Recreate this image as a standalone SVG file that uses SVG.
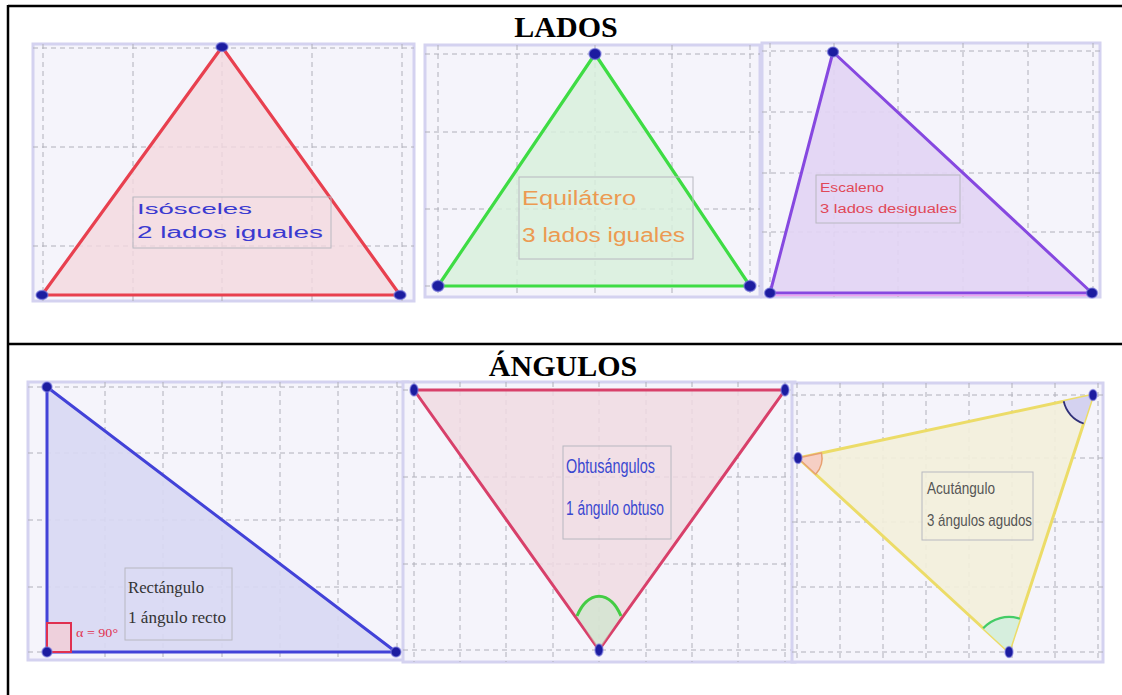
<svg xmlns="http://www.w3.org/2000/svg" width="1122" height="695" viewBox="0 0 1122 695">
<style>
.bg{fill:#f5f4fb;stroke:#d4d2f0;stroke-width:3}
.grid{stroke:#b0b0ba;stroke-width:1;stroke-dasharray:5 4;fill:none}
.frame{stroke:#000;stroke-width:2.5;fill:none}
.title{font-family:"Liberation Serif",serif;font-weight:bold;font-size:30px;fill:#000;text-anchor:middle}
.dot{fill:#1c1ca0;stroke:#7a7ae0;stroke-width:1.5;stroke-opacity:0.6}
.lbl{fill:none;stroke:#b8b8c0;stroke-width:1}
.sans{font-family:"Liberation Sans",Arial,sans-serif}
.serif{font-family:"Liberation Serif","Times New Roman",serif}
</style>
<rect width="1122" height="695" fill="#fff"/>
<g id="table">
<line class="frame" x1="8" y1="6" x2="1122" y2="6"/>
<line class="frame" x1="8" y1="344" x2="1122" y2="344"/>
<line class="frame" x1="8" y1="5" x2="8" y2="695"/>
<text class="title" x="566" y="37">LADOS</text>
<text class="title" x="563" y="376">ÁNGULOS</text>
</g>
<g id="isosceles">
<rect class="bg" x="33" y="44" width="381" height="257"/>
<path class="grid" d="M43 44V301M133 44V301M222 44V301M312 44V301M402 44V301M33 48H414M33 147H414M33 246H414"/>
<polygon points="222,47 42,295 400,295" fill="#f4d8de" fill-opacity="0.8" stroke="#e8404f" stroke-width="3.2" stroke-linejoin="round"/>
<rect class="lbl" x="133" y="197" width="198" height="51"/>
<text class="sans" x="137" y="214" font-size="15" fill="#3a3ad0" textLength="115" lengthAdjust="spacingAndGlyphs">Isósceles</text>
<text class="sans" x="137" y="238" font-size="16" fill="#3a3ad0" textLength="186" lengthAdjust="spacingAndGlyphs">2 lados iguales</text>
<ellipse class="dot" cx="222" cy="47" rx="6" ry="4.5"/>
<ellipse class="dot" cx="42" cy="295" rx="6" ry="4.5"/>
<ellipse class="dot" cx="400" cy="295" rx="6" ry="4.5"/>
</g>
<g id="equilatero">
<rect class="bg" x="425" y="45" width="335" height="252"/>
<path class="grid" d="M438 45V297M517 45V297M595 45V297M672 45V297M750 45V297M425 54H760M425 132H760M425 209H760M425 286H760"/>
<polygon points="595,54 438,286 750,286" fill="#d8f0dc" fill-opacity="0.85" stroke="#3edc44" stroke-width="3.2" stroke-linejoin="round"/>
<rect class="lbl" x="519" y="177" width="174" height="82"/>
<text class="sans" x="522" y="205" font-size="20" fill="#ec9a52" textLength="114" lengthAdjust="spacingAndGlyphs">Equilátero</text>
<text class="sans" x="522" y="242" font-size="20" fill="#ec9a52" textLength="163" lengthAdjust="spacingAndGlyphs">3 lados iguales</text>
<ellipse class="dot" cx="595" cy="54" rx="6" ry="5.5"/>
<ellipse class="dot" cx="438" cy="286" rx="6" ry="5.5"/>
<ellipse class="dot" cx="750" cy="286" rx="6" ry="5.5"/>
</g>
<g id="escaleno">
<rect class="bg" x="762" y="43" width="338" height="254"/>
<path class="grid" d="M770 43V297M834 43V297M898 43V297M963 43V297M1028 43V297M1093 43V297M762 51H1100M762 112H1100M762 173H1100M762 232H1100"/>
<polygon points="833,52 770,293 1092,293" fill="#e2d4f4" fill-opacity="0.9" stroke="#8648e0" stroke-width="3" stroke-linejoin="round"/>
<line x1="772" y1="295.5" x2="1090" y2="295.5" stroke="#f0a0f0" stroke-width="1.5"/>
<rect class="lbl" x="816" y="175" width="144" height="48"/>
<text class="sans" x="820" y="192" font-size="12" fill="#e04858" textLength="64" lengthAdjust="spacingAndGlyphs">Escaleno</text>
<text class="sans" x="820" y="213" font-size="12" fill="#e04858" textLength="137" lengthAdjust="spacingAndGlyphs">3 lados desiguales</text>
<ellipse class="dot" cx="833" cy="52" rx="5.5" ry="5"/>
<ellipse class="dot" cx="770" cy="293" rx="5.5" ry="5"/>
<ellipse class="dot" cx="1092" cy="293" rx="5.5" ry="5"/>
</g>
<g id="rectangulo">
<rect class="bg" x="28" y="382" width="380" height="278"/>
<path class="grid" d="M47 382V660M105 382V660M163 382V660M222 382V660M280 382V660M338 382V660M397 382V660M28 387H408M28 453H408M28 520H408M28 587H408M28 652H408"/>
<polygon points="47,387 47,652 396,652" fill="#d8d8f3" fill-opacity="0.9" stroke="#4242d8" stroke-width="3" stroke-linejoin="round"/>
<rect x="47" y="623" width="24" height="29" fill="#eed0dc" stroke="#e03050" stroke-width="2"/>
<text class="serif" x="76" y="637" font-size="13" fill="#e03050" textLength="42" lengthAdjust="spacingAndGlyphs">α = 90°</text>
<rect class="lbl" x="125" y="568" width="107" height="72"/>
<text class="serif" x="128" y="593" font-size="17" fill="#333" textLength="76" lengthAdjust="spacingAndGlyphs">Rectángulo</text>
<text class="serif" x="128" y="623" font-size="17" fill="#333" textLength="98" lengthAdjust="spacingAndGlyphs">1 ángulo recto</text>
<ellipse class="dot" cx="47" cy="387" rx="5" ry="5"/>
<ellipse class="dot" cx="47" cy="652" rx="5" ry="5"/>
<ellipse class="dot" cx="396" cy="652" rx="5" ry="5"/>
</g>
<g id="obtusangulo">
<rect class="bg" x="403" y="382" width="392" height="280"/>
<path class="grid" d="M414 382V662M460 382V662M506 382V662M553 382V662M599 382V662M646 382V662M692 382V662M738 382V662M785 382V662M403 390H795M403 477H795M403 564H795M403 650H795"/>
<polygon points="414,390 785,390 599,650" fill="#f0dae2" fill-opacity="0.85" stroke="#d8406a" stroke-width="3" stroke-linejoin="round"/>
<path d="M599 650L577 616A28 52 0 0 1 621 616Z" fill="#c8e8c8" fill-opacity="0.6" stroke="none"/>
<path d="M577 616A28 52 0 0 1 621 616" fill="none" stroke="#44cc44" stroke-width="3"/>
<rect class="lbl" x="563" y="446" width="108" height="93"/>
<text class="sans" x="566" y="473" font-size="20" fill="#3a48d0" textLength="89" lengthAdjust="spacingAndGlyphs">Obtusángulos</text>
<text class="sans" x="566" y="515" font-size="20" fill="#3a48d0" textLength="98" lengthAdjust="spacingAndGlyphs">1 ángulo obtuso</text>
<ellipse class="dot" cx="414" cy="390" rx="4" ry="6"/>
<ellipse class="dot" cx="785" cy="390" rx="4" ry="6"/>
<ellipse class="dot" cx="599" cy="650" rx="4" ry="6"/>
</g>
<g id="acutangulo">
<rect class="bg" x="792" y="383" width="311" height="279"/>
<path class="grid" d="M797 383V662M840 383V662M883 383V662M926 383V662M969 383V662M1012 383V662M1055 383V662M1098 383V662M792 395H1103M792 458H1103M792 522H1103M792 587H1103M792 652H1103"/>
<polygon points="798,458 1093,395 1009,652" fill="#f3f0da" fill-opacity="0.9" stroke="#ecdc68" stroke-width="3" stroke-linejoin="round"/>
<path d="M798 458L821.5 453A24 24 0 0 1 815.7 474.2Z" fill="#f6cfc4" stroke="#e8a070" stroke-width="1.5"/>
<path d="M1093 395L1063.7 401.3A30 30 0 0 0 1083.7 423.5Z" fill="#d4d2f0" stroke="none"/>
<path d="M1063.7 401.3A30 30 0 0 0 1083.7 423.5" fill="none" stroke="#303078" stroke-width="1.8"/>
<path d="M1009 652L983.2 628.3A35 35 0 0 1 1019.9 618.7Z" fill="#d6eedd" stroke="none"/>
<path d="M983.2 628.3A35 35 0 0 1 1019.9 618.7" fill="none" stroke="#44cc66" stroke-width="2.2"/>
<rect class="lbl" x="922" y="472" width="111" height="68"/>
<text class="sans" x="927" y="494" font-size="17" fill="#555" textLength="68" lengthAdjust="spacingAndGlyphs">Acutángulo</text>
<text class="sans" x="927" y="526" font-size="17" fill="#555" textLength="105" lengthAdjust="spacingAndGlyphs">3 ángulos agudos</text>
<ellipse class="dot" cx="798" cy="458" rx="4" ry="5.5"/>
<ellipse class="dot" cx="1093" cy="395" rx="4" ry="5.5"/>
<ellipse class="dot" cx="1009" cy="652" rx="4" ry="5.5"/>
</g>
<g id="connectors"></g>
</svg>
